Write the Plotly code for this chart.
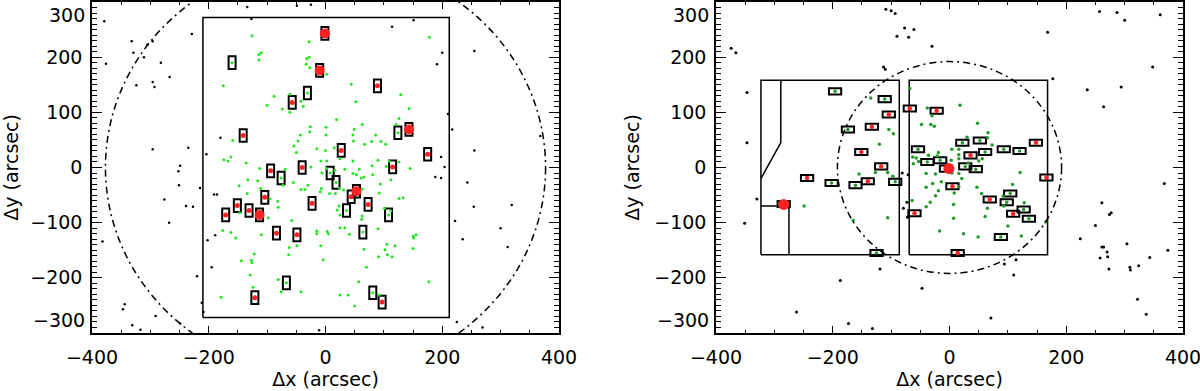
import plotly.graph_objects as go
from plotly.subplots import make_subplots

# ---------------- left panel ----------------
# slit boxes (centres, arcsec)
left_slit_x = [-1, -160, -10, 89, -31, -57, -141, 124, 143, 175, 27, -94, -76, -40, 8, 18, 115,
               44, 53, 73, 36, 108, 64, -23, -104, -151, -131, -171, -113, -84, -49, -67, -121, 81, 97]
left_slit_y = [243, 190, 176, 148, 135, 118, 58, 63, 69, 24, 31, -6, -19, 0, -10, -27, 1,
               -53, -43, -67, -78, -86, -117, -65, -54, -69, -78, -86, -86, -119, -122, -209, -236, -227, -244]

left_red_x = [89, -57, -141, 175, 27, -94, -40, 115, 44, 73, -23, -104, -151, -131, -171, -84, -49, -121, 97]
left_red_y = [148, 118, 58, 24, 31, -6, 0, 1, -53, -67, -65, -54, -69, -78, -86, -119, -122, -236, -244]
left_bigred_x = [-1, -10, 143, 53, -113]
left_bigred_y = [243, 176, 69, -43, -86]

left_green_x = [-160, -31, 124, -76, 8, 18, 36, 108, 64, -67, 81,
                -126, -28, 178, -110, -114, -114, -28, -32, -33, -27, 2, -175, 44, -88, -61, -100, -74,
                -42, -38, -61, 52, 129, 143, 19, -26, 1, -27, 49, 63, 126, 121, -43, 1, 86, -47, -159,
                47, 79, 95, 103, 48, 67, -54, -15, 0, 15, -50, -162, -174, -167, -136, -8, 2, 25, 47,
                90, 109, 126, -113, -69, -25, 33, 58, 80, 104, 145,
                -133, -116, -148, -73, -55, -6, 2, 16, 47, 53, 61, 66, 81, 94, 112, -42, -35, -30, -9,
                -7, 7, 17, 24, 31, 63, 92, -111, -134, -95, -82, -81, -98, -147, 23, 20, 25, 126, 133,
                63, 62, 101, 112, -58, -176, -162, -154, -110, -15, -15, 3, 5, 25, 33, 41, 90, 150,
                155, 151, -8, -49, -62, -63, -122, -144, -127, -126, -4, 66, 105, 119, 102, 106, 114,
                91, 150, 70, -129, -81, -76, -42, 57, 177, -124, 25, 39, 50, -179, 92]
left_green_y = [190, 135, 63, -19, -10, -27, -78, -86, -117, -209, -227,
                239, 228, 236, 208, 205, 195, 200, 197, 187, 181, 169, 148, 151, 129, 133, 113, 106,
                120, 111, 100, 119, 132, 107, 87, 74, 73, 65, 69, 78, 89, 78, 59, 59, 59, 48, 49,
                59, 47, 47, 42, 48, 42, 39, 34, 31, 36, 27, 19, 14, 12, 8, 12, 12, 16, 12,
                13, 12, 10, -2, -3, 1, -3, -3, 3, 2, -2,
                -22, -24, -33, -32, -27, -10, -2, -5, -11, -13, -19, -17, -13, -30, -22, -40, -40, -32, -44,
                -38, -47, -47, -38, -41, -39, -46, -38, -47, -57, -61, -72, -91, -82, -70, -77, -86, -56, -55,
                -88, -94, -74, -79, -96, -114, -118, -128, -122, -115, -120, -116, -120, -109, -109, -121, -111, -124,
                -122, -128, -142, -142, -145, -158, -157, -169, -168, -172, -167, -148, -139, -142, -149, -158, -162,
                -162, -147, -181, -195, -203, -225, -225, -207, -207, -217, -231, -231, -251, -235, -231]

left_black_x = [-379, -376, -332, -329, -324, -311, -305, -296, -296, -293, -282, -267, -229, -134, -127,
                -296, -235, -249, -252, -251, -204, -180, -191, -186, -215, -276, -49, -25, 114, 151, 200,
                191, 255, 210, 217, 255, 198, 204, 188, 198, 243, 368, -268, -239, -227, -382, -202, -189,
                -195, -220, -344, -347, -291, -331, -317, -249, -212, -209, 222, 235, 254, 319, 300, 312,
                225, 269, -11]
left_black_y = [265, 188, 229, 208, 149, 200, 223, 229, 155, 146, 190, 164, 242, 291, 269,
                33, 36, 3, -7, -32, 24, 54, -49, -49, -37, -58, 293, 295, 255, 267, 208,
                187, 211, 97, 69, 31, 19, 1, -17, -19, -27, 57, -100, -70, -71, -134, -132, -123,
                -181, -197, -248, -257, -269, -286, -294, -283, -245, -262, -97, -130, -71, -68, -110, -144,
                -280, -290, -295]

left_fov_x = [-210, 212, 212, -210, -210]
left_fov_y = [-272, -272, 272, 272, -272]
left_circle_r = 377

# ---------------- right panel ----------------
right_slit_x = [-196, -111, -104, -133, -174, -151, -117, -68, -22, 22, 52, 148, -54, 36, 61, 93, 120,
                -38, -16, -6, 27, 45, -244, -202, -161, -140, -93, -284, -125, 5, 166, 104, 69, 98, 127,
                109, 136, -60, 88, 14]
right_slit_y = [138, 124, 96, 74, 69, 28, 2, 107, 103, 45, 49, 45, 33, 22, 28, 33, 30,
                10, 13, -2, 2, -3, -19, -28, -32, -25, -26, -66, -155, -34, -18, -47, -58, -63, -76,
                -84, -93, -83, -126, -155]

right_red_x = [-104, -133, -151, -117, -68, -22, 148, 36, -244, -140, 5, 166, 69, 109, -60, 14]
right_red_y = [96, 74, 28, 2, 107, 103, 45, 22, -19, -25, -34, -18, -58, -84, -83, -155]
right_bigred_x = [-1, -284]
right_bigred_y = [-2, -67]

right_green_x = [-196, -111, -174, 22, 52, -54, 61, 93, 120, -38, -16, 27, 45, -202, -161, -93, -125,
                 104, 98, 127, 136, 88,
                 -135, -104, -96, -120, -68, -38, -30, 18, -48, -32, -26, 48, 66, 65, 30, 73, 4, 16, 16,
                 -19, -21, -36, -63, -57, -62, -53, 16, 50, 56, 3, 32, 121, 16, -40, -155, -127, -106,
                 -97, -24, 4, 21, -14, -29, -40, -19, -24, -33, -40, -64, 8, 16, 47, 55, 108, 92, 93,
                 128, 65, 61, 7, 7, -17, 24, 49, 100, 123, 165, -249, -165, -106]
right_green_y = [138, 124, 69, 45, 49, 33, 28, 33, 30, 10, 13, 2, -3, -28, -32, -26, -155,
                 -47, -63, -76, -93, -126,
                 126, 69, 61, 42, 143, 108, 94, 113, 78, 78, 75, 80, 63, 54, 55, 41, 33, 33, 23,
                 27, 21, 22, 19, 17, 7, 11, 16, 12, 16, 13, 8, -9, -11, -11, -12, -9, -9,
                 -16, -12, -10, -20, -26, -29, -36, -42, -51, -63, -71, -60, -46, -35, -36, -47, -31, -52, -70,
                 -64, -74, -89, -67, -92, -115, -120, -126, -106, -124, -99, -70, -96, -91]

right_black_x = [-374, -366, -347, -347, -109, -100, -93, -77, -61, -90, -70, -113, -110, -81, -71, -330,
                 -30, 168, 257, 287, 300, 361, 348, 177, 236, 294, 264, 368, -351, -276, -119, -187,
                 -262, -173, -132, -79, -73, -72, 114, 94, 261, 274, 277, 250, 224, 261, 264, 270, 258,
                 271, 273, 304, 309, 310, 324, 343, 374, 322, 337, -47, 71, 110]
right_black_y = [216, 208, 136, 45, 287, 284, 279, 253, 250, 238, 236, 182, 178, -10, -13, -57,
                 220, 245, 283, 281, 267, 277, 182, 161, 141, 146, 110, -29, -101, -72, -184, -205,
                 -262, -283, -292, -74, -63, -90, -167, -175, -64, -85, -82, -105, -129, -144, -144, -153, -164,
                 -162, -184, -138, -181, -186, -178, -163, -150, -239, -266, -219, -273, -195]

right_fov1_x = [-323, -86, -86, -323, -323]
right_fov1_y = [-158, -158, 158, 158, -158]
right_fov2_x = [-69, 168, 168, -69, -69]
right_fov2_y = [-158, -158, 158, 158, -158]
right_mask_a_x = [-289, -289, -323]
right_mask_a_y = [158, 45, -20]
right_mask_b_x = [-323, -275, -275]
right_mask_b_y = [-70, -70, -158]
right_circle_r = 192

x_ticks = [-400, -200, 0, 200, 400]
y_ticks = [-200, -100, 0, 100, 200]

FONT = "DejaVu Sans"
BIG_GREEN = "#22e622"
DARK_GREEN = "#22992a"
RED = "#ff2222"

fig = make_subplots(rows=1, cols=2)


def slit_shapes(xs, ys, w, h, xref, yref):
    out = []
    for cx, cy in zip(xs, ys):
        out.append(dict(type="rect", xref=xref, yref=yref, x0=cx - w / 2, x1=cx + w / 2,
                        y0=cy - h / 2, y1=cy + h / 2, line=dict(color="black", width=2), layer="below"))
    return out


def dots(xs, ys, color, size, col):
    fig.add_trace(go.Scatter(x=xs, y=ys, mode="markers", showlegend=False,
                             marker=dict(color=color, size=size, line=dict(width=0))), row=1, col=col)


def polyline(xs, ys, col, width=1.5):
    fig.add_trace(go.Scatter(x=xs, y=ys, mode="lines", showlegend=False,
                             line=dict(color="black", width=width)), row=1, col=col)


# left
polyline(left_fov_x, left_fov_y, 1)
dots(left_black_x, left_black_y, "black", 2.5, 1)
dots(left_green_x, left_green_y, BIG_GREEN, 3, 1)
dots(left_red_x, left_red_y, RED, 5, 1)
dots(left_bigred_x, left_bigred_y, RED, 10, 1)

# right
polyline(right_fov1_x, right_fov1_y, 2)
polyline(right_fov2_x, right_fov2_y, 2)
polyline(right_mask_a_x, right_mask_a_y, 2)
polyline(right_mask_b_x, right_mask_b_y, 2)
dots(right_black_x, right_black_y, "black", 3, 2)
dots(right_green_x, right_green_y, DARK_GREEN, 3.5, 2)
dots(right_red_x, right_red_y, RED, 4.5, 2)
dots(right_bigred_x, right_bigred_y, RED, 11, 2)

shapes = []
shapes += slit_shapes(left_slit_x, left_slit_y, 12, 23, "x", "y")
shapes += slit_shapes(right_slit_x, right_slit_y, 21, 11, "x2", "y2")
for r, xr, yr in [(left_circle_r, "x", "y"), (right_circle_r, "x2", "y2")]:
    shapes.append(dict(type="circle", xref=xr, yref=yr, x0=-r, x1=r, y0=-r, y1=r,
                       line=dict(color="black", width=1.5, dash="7px,4px,2px,4px"), layer="above"))

axis_font = dict(family=FONT, size=19, color="black")
xcommon = dict(range=[-400, 400], tickvals=x_ticks, ticks="inside", ticklen=7, tickwidth=1.3,
               tickcolor="black", showline=True, linecolor="black", linewidth=1.5, mirror="ticks",
               showgrid=False, zeroline=False, tickfont=axis_font, ticklabelstandoff=6,
               ticklabeloverflow="allow",
               minor=dict(dtick=50, ticks="inside", ticklen=3.5, tickwidth=1, tickcolor="black"),
               title=dict(text="Δx (arcsec)", font=axis_font, standoff=3), automargin=False)
ycommon = dict(range=[-300, 300], tickvals=y_ticks, ticks="inside", ticklen=10, tickwidth=1.3,
               tickcolor="black", showline=True, linecolor="black", linewidth=1.5, mirror="ticks",
               showgrid=False, zeroline=False, tickfont=axis_font, ticklabelstandoff=4,
               minor=dict(dtick=10, ticks="inside", ticklen=5, tickwidth=1, tickcolor="black"),
               title=dict(text="Δy (arcsec)", font=axis_font, standoff=10), automargin=False)

W, H = 1200, 391
fig.update_layout(
    width=W, height=H, margin=dict(l=0, r=0, t=0, b=0),
    paper_bgcolor="white", plot_bgcolor="white", showlegend=False,
    xaxis=dict(domain=[92 / W, 559 / W], **xcommon),
    xaxis2=dict(domain=[716 / W, 1183 / W], **xcommon),
    yaxis=dict(domain=[(H - 333) / H, (H - 2) / H], **ycommon),
    yaxis2=dict(domain=[(H - 333) / H, (H - 2) / H], **ycommon),
    shapes=shapes,
)

# extreme y labels sit inside the axis span, as in the original
for xr, yr in [("x domain", "y"), ("x2 domain", "y2")]:
    fig.add_annotation(x=0, xref=xr, y=300, yref=yr, text="300", showarrow=False,
                       xanchor="right", yanchor="top", xshift=-5, font=axis_font)
    fig.add_annotation(x=0, xref=xr, y=-300, yref=yr, text="−300", showarrow=False,
                       xanchor="right", yanchor="bottom", xshift=-5, font=axis_font)

fig.write_html("out.html", config={"displayModeBar": False},
               post_script="document.body.style.margin='0px';")
